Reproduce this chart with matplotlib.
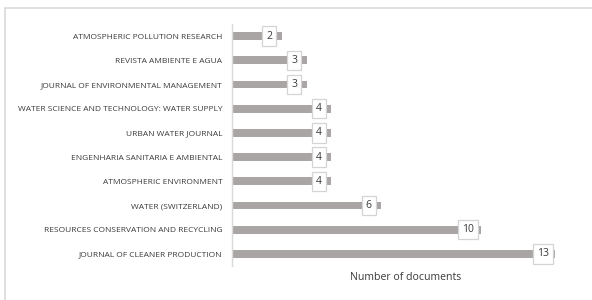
import matplotlib
matplotlib.use("Agg")
from matplotlib import pyplot as plt
import matplotlib.patches as mpatches

# journals listed top to bottom
journals = [
    "ATMOSPHERIC POLLUTION RESEARCH",
    "REVISTA AMBIENTE E AGUA",
    "JOURNAL OF ENVIRONMENTAL MANAGEMENT",
    "WATER SCIENCE AND TECHNOLOGY: WATER SUPPLY",
    "URBAN WATER JOURNAL",
    "ENGENHARIA SANITARIA E AMBIENTAL",
    "ATMOSPHERIC ENVIRONMENT",
    "WATER (SWITZERLAND)",
    "RESOURCES CONSERVATION AND RECYCLING",
    "JOURNAL OF CLEANER PRODUCTION",
]
docs = [2, 3, 3, 4, 4, 4, 4, 6, 10, 13]

plt.rcParams["font.family"] = ["Open Sans", "DejaVu Sans"]

fig = plt.figure(figsize=(5.92, 3.0), dpi=100)

# light frame around the whole chart
fig.patches.append(mpatches.Rectangle((5 / 592, -0.05), 1.2, 1 - 8 / 300 + 0.05,
                                      transform=fig.transFigure, fill=False,
                                      edgecolor="#d9d9d9", lw=1.2))

ax = fig.add_axes([232 / 592, 34 / 300, 348 / 592, 242 / 300])

pos = list(range(len(journals)))
ax.barh(pos, docs, height=0.33, color="#a9a5a5", zorder=2)

for p, v in zip(pos, docs):
    ax.text(v - 0.5, p, str(v), ha="center", va="center", fontsize=7.5,
            color="#3a3a3a", zorder=3,
            bbox=dict(boxstyle="square,pad=0.4", fc="white", ec="#d4d4d4", lw=0.9))

ax.set_xlim(0, 14)
ax.set_ylim(-0.5, len(journals) - 0.5)
ax.invert_yaxis()

ax.set_yticks(pos)
ax.set_yticklabels(journals, fontsize=6.0, color="#3a3a3a")
ax.tick_params(axis="y", length=0, pad=7)
ax.set_xticks([])

for s in ["top", "right", "bottom"]:
    ax.spines[s].set_visible(False)
ax.spines["left"].set_color("#d9d9d9")
ax.spines["left"].set_linewidth(1.0)

ax.set_xlabel("Number of documents", fontsize=7.6, color="#3a3a3a", labelpad=4)

plt.savefig("out.png", dpi=100)
plt.close()
